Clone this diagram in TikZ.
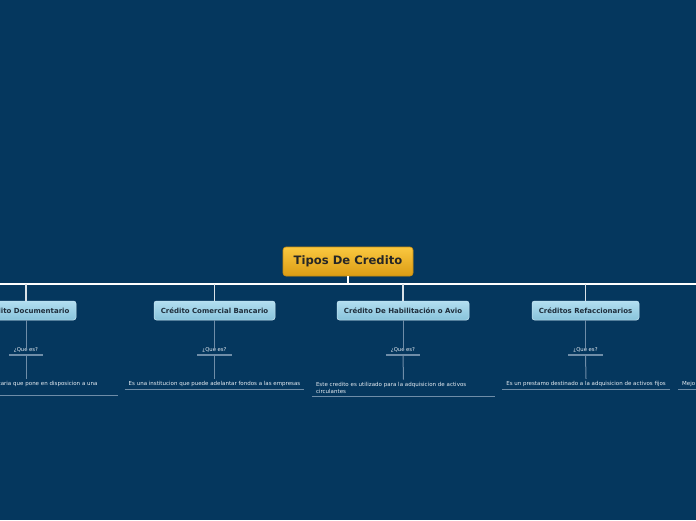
\documentclass[tikz,border=0pt]{standalone}
\usepackage{fontspec}
\setmainfont{DejaVu Sans}
\usetikzlibrary{shadings}
\definecolor{bg}{HTML}{05375E}
\definecolor{roottop}{HTML}{FAC840}
\definecolor{rootbot}{HTML}{DC9C14}
\definecolor{rootline}{HTML}{C98D10}
\definecolor{boxtop}{HTML}{B2DEF0}
\definecolor{boxbot}{HTML}{88C3DB}
\definecolor{boxline}{HTML}{C8E6F3}
\definecolor{boxtext}{HTML}{1E2E3C}
\definecolor{subline}{HTML}{6F8DA8}
\definecolor{smalltext}{HTML}{E8EEF4}
\begin{document}
\begin{tikzpicture}[x=1pt,y=-1pt,
  rootbox/.style={draw=rootline,line width=0.6pt,rounded corners=3pt,
    top color=roottop,bottom color=rootbot,minimum width=130pt,minimum height=29pt,
    inner sep=0pt,font=\fontsize{11.6}{13}\selectfont\bfseries,text=black!85},
  branchbox/.style={draw=boxline,line width=0.5pt,rounded corners=2.5pt,
    top color=boxtop,bottom color=boxbot,minimum height=19pt,inner sep=0pt,
    font=\fontsize{7}{8}\selectfont\bfseries,text=boxtext},
  qlabel/.style={anchor=south,minimum width=34pt,inner xsep=0pt,inner ysep=2.5pt,
    font=\fontsize{5.3}{6}\selectfont,text=smalltext},
  desc/.style={anchor=south,inner xsep=4pt,inner ysep=2.5pt,
    font=\fontsize{5.5}{7.3}\selectfont,text=smalltext},
  mainline/.style={draw=white,line width=2pt},
  dropline/.style={draw=white!85!bg,line width=1.3pt},
  subconn/.style={draw=subline,line width=1pt},
  uline/.style={draw=subline,line width=1.2pt}
]
\useasboundingbox (0,0) rectangle (696,520);
\fill[bg] (0,0) rectangle (696,520);

% root
\node[rootbox] (root) at (348,261.5) {Tipos De Credito};
\coordinate (hub) at (348,284);
\coordinate (hl) at (-10,284);
\coordinate (hr) at (706,284);
\draw[mainline] (root.south) -- (hub);
\draw[mainline] (hl) -- (hr);

% branch boxes
\node[branchbox,minimum width=100pt] (b1) at (26,310.5) {Crédito Documentario};
\node[branchbox,minimum width=121pt] (b2) at (214.5,310.5) {Crédito Comercial Bancario};
\node[branchbox,minimum width=132pt] (b3) at (403,310.5) {Crédito De Habilitación o Avio};
\node[branchbox,minimum width=107pt] (b4) at (585.5,310.5) {Créditos Refaccionarios};

\foreach \i/\x in {1/26,2/214.5,3/403,4/585.5}{
  \coordinate (t\i) at (\x,284);
  \draw[dropline] (t\i) -- (b\i.north);
}

% "Que es?" labels
\node[qlabel] (q1) at (26,355) {¿Que es?};
\node[qlabel] (q2) at (214.5,355) {¿Que es?};
\node[qlabel] (q3) at (403,355) {¿Que es?};
\node[qlabel] (q4) at (585.5,355) {¿Que es?};

% descriptions
\node[desc,text width=176pt,align=left] (d1) at (26,395.5)
  {Es una operacion bancaria que pone en disposicion a una\\\mbox{}};
\node[desc] (d2) at (214.5,389.5)
  {Es una institucion que puede adelantar fondos a las empresas};
\node[desc,text width=175pt,align=left] (d3) at (403.5,396.5)
  {Este credito es utilizado para la adquisicion de activos\\circulantes};
\node[desc] (d4) at (586,389.5)
  {Es un prestamo destinado a la adquisicion de activos fijos};
\node[desc,anchor=south west,text width=60pt,align=left] (d5) at (678,389.5)
  {Mejo};

\foreach \i in {1,2,3,4}{
  \coordinate (qt\i) at ([yshift=-5pt]q\i.north);
  \draw[subconn] (b\i.south) -- (qt\i);
  \draw[uline] (q\i.south west) -- (q\i.south east);
  \draw[subconn] (q\i.south) -- (d\i.north);
}
\foreach \i in {1,2,3,4,5}{
  \draw[uline] (d\i.south west) -- (d\i.south east);
}
\end{tikzpicture}
\end{document}
